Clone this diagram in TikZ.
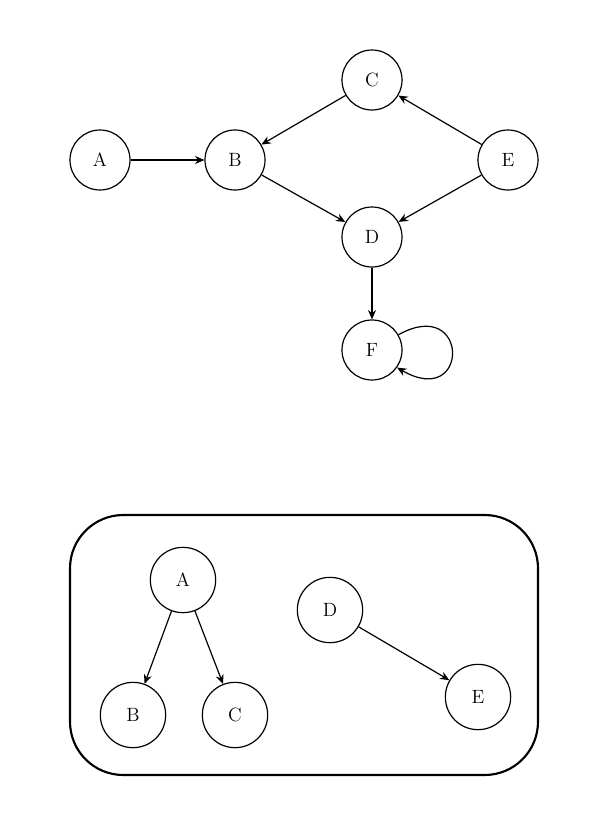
\documentclass[tikz,border=0pt]{standalone}
\usetikzlibrary{arrows.meta}
\begin{document}
\begin{tikzpicture}[x=0.75pt,y=-0.75pt,
  v/.style={circle,draw,line width=0.9pt,minimum size={45pt},inner sep=0pt,font=\Large},
  w/.style={circle,draw,line width=0.9pt,minimum size={49pt},inner sep=0pt,font=\Large},
  e/.style={-{Stealth[length=7pt,width=6pt]},line width=0.9pt}]
\useasboundingbox (0,0) rectangle (600,828);
\node[v] (A) at (100,160) {A};
\node[v] (B) at (235,160) {B};
\node[v] (C) at (372,80) {C};
\node[v] (E) at (508,160) {E};
\node[v] (D) at (372,237) {D};
\node[v] (F) at (372,350) {F};
\draw[e] (A) -- (B);
\draw[e] (C) -- (B);
\draw[e] (E) -- (C);
\draw[e] (B) -- (D);
\draw[e] (E) -- (D);
\draw[e] (D) -- (F);
\draw[e] (F.30) .. controls (470,295) and (470,410) .. (F.-35);
\draw[line width=1.6pt,rounded corners=40pt] (70,515) rectangle (538,775);
\node[w] (a) at (183,580) {A};
\node[w] (b) at (133,715) {B};
\node[w] (c) at (235,715) {C};
\node[w] (d) at (330,610) {D};
\node[w] (ee) at (478,697) {E};
\draw[e] (a) -- (b);
\draw[e] (a) -- (c);
\draw[e] (d) -- (ee);
\end{tikzpicture}
\end{document}
